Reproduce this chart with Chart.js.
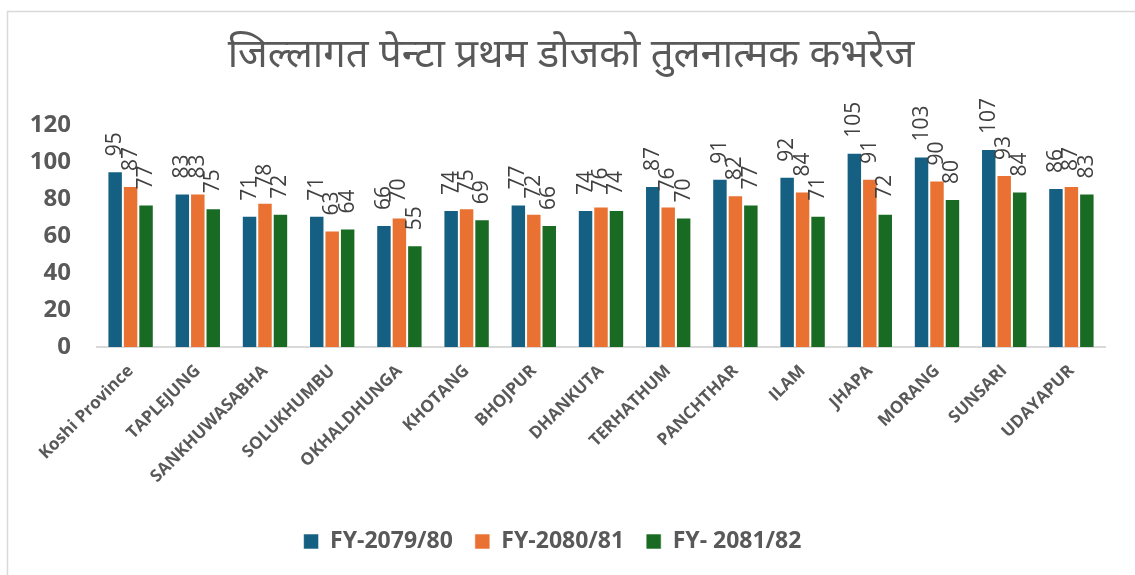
<!DOCTYPE html>
<html>
<head>
<meta charset="utf-8">
<script src="https://cdn.jsdelivr.net/npm/chart.js@4.4.1/dist/chart.umd.min.js"></script>
<style>
  html, body { margin: 0; padding: 0; background: #fff; }
  #wrap { width: 1135px; height: 575px; position: relative; }
</style>
</head>
<body>
<div id="wrap"><canvas id="chart"></canvas></div>
<script>
// district list and coverage % per fiscal year
const districts = [
  "Koshi Province", "TAPLEJUNG", "SANKHUWASABHA", "SOLUKHUMBU", "OKHALDHUNGA",
  "KHOTANG", "BHOJPUR", "DHANKUTA", "TERHATHUM", "PANCHTHAR",
  "ILAM", "JHAPA", "MORANG", "SUNSARI", "UDAYAPUR"
];
const fy7980 = [95, 83, 71, 71, 66, 74, 77, 74, 87, 91, 92, 105, 103, 107, 86];
const fy8081 = [87, 83, 78, 63, 70, 75, 72, 76, 76, 82, 84, 91, 90, 93, 87];
const fy8182 = [77, 75, 72, 64, 55, 69, 66, 74, 70, 77, 71, 72, 80, 84, 83];
const seriesNames = ["FY-2079/80", "FY-2080/81", "FY- 2081/82"];
const yTicks = [0, 20, 40, 60, 80, 100, 120];

const titleText = "जिल्लागत पेन्टा प्रथम डोजको तुलनात्मक कभरेज";
const GREY = "#595959";

// rotated value labels above each bar
const valueLabels = {
  id: "valueLabels",
  afterDatasetsDraw(chart) {
    const { ctx } = chart;
    ctx.save();
    ctx.font = "21px 'Open Sans', sans-serif";
    ctx.fillStyle = "#404040";
    ctx.textAlign = "left";
    ctx.textBaseline = "middle";
    chart.data.datasets.forEach((ds, i) => {
      const meta = chart.getDatasetMeta(i);
      meta.data.forEach((bar, j) => {
        ctx.save();
        ctx.translate(bar.x, bar.y - 15);
        ctx.rotate(-Math.PI / 2);
        ctx.fillText(String(ds.data[j]), 0, 0);
        ctx.restore();
      });
    });
    ctx.restore();
  },
};

// title + the light frame at top/left
const frameAndTitle = {
  id: "frameAndTitle",
  beforeDraw(chart) {
    const { ctx, width } = chart;
    ctx.save();
    ctx.strokeStyle = "#d9d9d9";
    ctx.lineWidth = 1.5;
    ctx.beginPath();
    ctx.moveTo(7.5, chart.height);
    ctx.lineTo(7.5, 11.5);
    ctx.lineTo(width, 11.5);
    ctx.stroke();

    ctx.fillStyle = GREY;
    ctx.font = "40px 'Noto Sans Devanagari', 'Noto Serif Devanagari', 'Lohit Devanagari', 'Mukta', sans-serif";
    ctx.textAlign = "center";
    ctx.textBaseline = "middle";
    ctx.fillText(titleText, 571, 60);
    ctx.restore();
  },
};

const colors = ["#156082", "#E97132", "#196B24"];
const values = [fy7980, fy8081, fy8182];

const datasets = values.map((arr, i) => ({
  label: seriesNames[i],
  data: arr,
  backgroundColor: colors[i],
  borderColor: "rgba(255,255,255,0.55)",
  borderWidth: 1,
  barPercentage: 1,
  categoryPercentage: 0.69,
}));

new Chart(document.getElementById("chart"), {
  type: "bar",
  data: { labels: districts, datasets },
  options: {
    responsive: true,
    maintainAspectRatio: false,
    animation: false,
    layout: {
      padding: { top: 125, right: 30, bottom: 12, left: 0 },
    },
    plugins: {
      title: { display: false },
      tooltip: { enabled: false },
      legend: {
        position: "bottom",
        labels: {
          color: GREY,
          font: { family: "'Open Sans', sans-serif", size: 23, weight: "bold" },
          boxWidth: 15,
          boxHeight: 15,
          padding: 22,
        },
      },
    },
    scales: {
      x: {
        grid: { display: false },
        border: { display: true, color: "#d9d9d9", width: 2 },
        ticks: {
          color: GREY,
          font: { family: "'Open Sans', sans-serif", size: 17, weight: "bold" },
          minRotation: 45,
          maxRotation: 45,
          autoSkip: false,
          padding: 6,
        },
        afterFit(scale) {
          scale.height = 161;
        },
      },
      y: {
        min: 0,
        max: 120,
        grid: { display: false },
        border: { display: false },
        afterBuildTicks(scale) {
          scale.ticks = yTicks.map((v) => ({ value: v }));
        },
        ticks: {
          color: GREY,
          font: { family: "'Open Sans', sans-serif", size: 24, weight: "bold" },
          padding: 18,
        },
        afterFit(scale) {
          scale.width = 97;
        },
      },
    },
  },
  plugins: [frameAndTitle, valueLabels],
});
</script>
</body>
</html>
